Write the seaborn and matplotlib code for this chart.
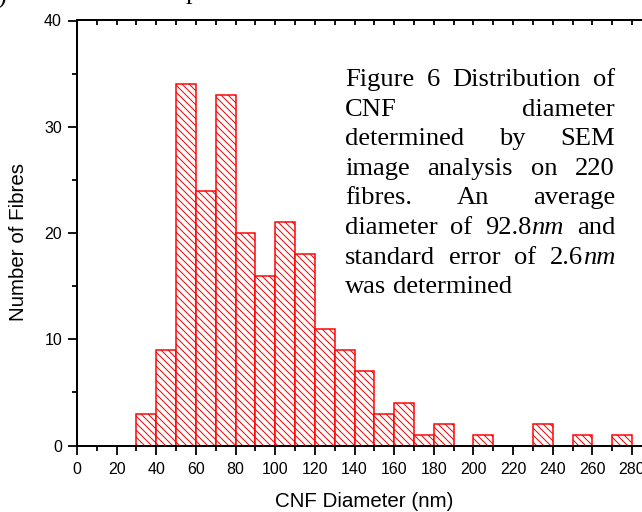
import numpy as np
import pandas as pd
import matplotlib
matplotlib.use("Agg")
import matplotlib.pyplot as plt
import seaborn as sns
from matplotlib.ticker import MultipleLocator

# ---------------- data ----------------
bin_left = [30, 40, 50, 60, 70, 80, 90, 100, 110, 120, 130, 140, 150, 160,
            170, 180, 190, 200, 210, 220, 230, 240, 250, 260, 270]
counts = [3, 9, 34, 24, 33, 20, 16, 21, 18, 11, 9, 7, 3, 4,
          1, 2, 0, 1, 0, 0, 2, 0, 1, 0, 1]
bin_width = 10
x_label = "CNF Diameter (nm)"
y_label = "Number of Fibres"
x_ticks = [0, 20, 40, 60, 80, 100, 120, 140, 160, 180, 200, 220, 240, 260, 280]
y_ticks = [0, 10, 20, 30, 40]

# caption: lines -> words -> segments (text, italic)
caption_lines = [
    [[("Figure", False)], [("6", False)], [("Distribution", False)], [("of", False)]],
    [[("CNF", False)], [("diameter", False)]],
    [[("determined", False)], [("by", False)], [("SEM", False)]],
    [[("image", False)], [("analysis", False)], [("on", False)], [("220", False)]],
    [[("fibres.", False)], [("An", False)], [("average", False)]],
    [[("diameter", False)], [("of", False)], [("92.8", False), ("nm", True)], [("and", False)]],
    [[("standard", False)], [("error", False)], [("of", False)], [("2.6", False), ("nm", True)]],
    [[("was", False)], [("determined", False)]],
]

# ---------------- figure ----------------
DPI = 84
W, H = 642, 512
def pt(px):
    return px * 72.0 / DPI

sns.set_style("white")
plt.rcParams["font.family"] = ["Liberation Sans", "DejaVu Sans"]
plt.rcParams["hatch.linewidth"] = pt(1.0)

fig = plt.figure(figsize=(W / DPI, H / DPI), dpi=DPI)
ax_l, ax_r, ax_t, ax_b = 77, 642, 20.5, 445.5
ax = fig.add_axes([ax_l / W, 1 - ax_b / H, (ax_r - ax_l) / W, (ax_b - ax_t) / H])

df = pd.DataFrame({"diameter": np.array(bin_left) + bin_width / 2, "n": counts})
edges = bin_left + [bin_left[-1] + bin_width]
sns.histplot(data=df, x="diameter", weights="n", bins=edges, ax=ax,
             stat="count", element="bars", fill=True)
for p in ax.patches:
    p.set_facecolor("white")
    p.set_edgecolor("red")
    p.set_hatch("\\\\\\\\")
    p.set_linewidth(pt(1.5))
    p.set_alpha(1)

ax.set_xlim(0, (ax_r - ax_l) / ((632 - 77) / 280.0))
ax.set_ylim(0, 40)
ax.set_xticks(x_ticks)
ax.set_yticks(y_ticks)
ax.xaxis.set_minor_locator(MultipleLocator(10))
ax.yaxis.set_minor_locator(MultipleLocator(5))

for s in ["left", "bottom", "top"]:
    ax.spines[s].set_linewidth(pt(2))
    ax.spines[s].set_color("black")
ax.spines["right"].set_visible(False)
ax.spines["top"].set_visible(False)

ax.tick_params(axis="both", which="major", direction="out", length=pt(9),
               width=pt(1.8), color="black", labelsize=pt(16), labelcolor="black")
ax.tick_params(axis="both", which="minor", direction="out", length=pt(5),
               width=pt(1.8), color="black")
ax.tick_params(axis="x", which="both", pad=pt(7), top=False, bottom=True)
ax.tick_params(axis="y", which="both", pad=pt(6), left=True, right=False)

sec = ax.secondary_xaxis("top")
sec.set_xticks(x_ticks)
sec.xaxis.set_minor_locator(MultipleLocator(10))
sec.tick_params(axis="x", which="both", direction="in", length=pt(5),
                width=pt(1.8), labeltop=False, color="black")
sec.spines["top"].set_linewidth(pt(2))
sec.spines["top"].set_color("black")

ax.set_xlabel(x_label, fontsize=pt(20.5), color="black")
ax.set_ylabel(y_label, fontsize=pt(20.5), color="black")
ax.xaxis.label.set_va("baseline")
ax.xaxis.set_label_coords((364 - ax_l) / (ax_r - ax_l), -(507 - ax_b) / (ax_b - ax_t))
ax.yaxis.label.set_va("center")
ax.yaxis.set_label_coords((19 - ax_l) / (ax_r - ax_l), (ax_b - 242) / (ax_b - ax_t))

# ---------------- caption (justified) ----------------
renderer = fig.canvas.get_renderer()
cap_size = pt(26.5)
cap_left, cap_right = 345, 615
base0, lsp = 86, 29.6
serif = ["Liberation Serif", "DejaVu Serif"]

def make(txt, italic, x, y):
    return fig.text(x / W, 1 - y / H, txt, fontsize=cap_size, family=serif,
                    style="italic" if italic else "normal", ha="left",
                    va="baseline", color="black")

for i, words in enumerate(caption_lines):
    y = base0 + i * lsp
    arts = []
    widths = []
    for w in words:
        segs = []
        wsum = 0
        for txt, it in w:
            t = make(txt, it, 0, y)
            bw = t.get_window_extent(renderer).width
            segs.append((t, bw))
            wsum += bw
        arts.append(segs)
        widths.append(wsum)
    if i < len(caption_lines) - 1 and len(words) > 1:
        gap = (cap_right - cap_left - sum(widths)) / (len(words) - 1)
    else:
        gap = 0.25 * 26.5
    x = cap_left
    for segs, wsum in zip(arts, widths):
        xx = x
        for t, bw in segs:
            t.set_x(xx / W)
            xx += bw
        x += wsum + gap

# cropped fragments of surrounding page text
fig.text(-3 / W, 1 - 4 / H, ")", fontsize=cap_size, family=serif, va="baseline", color="black")
fig.text(186 / W, 1 - (-1.5) / H, "p", fontsize=cap_size, family=serif, va="baseline", color="black")

fig.savefig("out.png", dpi=DPI)
